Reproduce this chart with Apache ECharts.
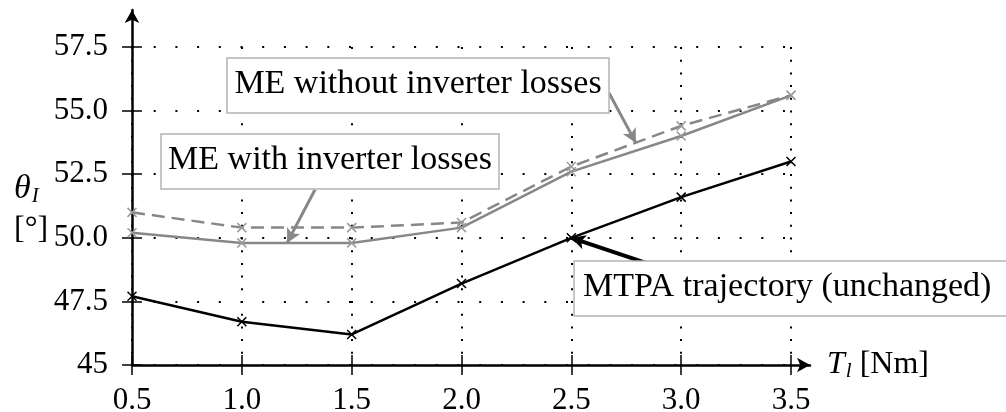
<!DOCTYPE html>
<html>
<head>
<meta charset="utf-8">
<script src="https://cdn.jsdelivr.net/npm/echarts@6/dist/echarts.min.js"></script>
<style>
  html, body { margin: 0; padding: 0; background: #fff; }
  #main { width: 1006px; height: 412px; }
</style>
</head>
<body>
<div id="main"></div>
<script>
// load torque T_l [Nm]
const torque = [0.5, 1.0, 1.5, 2.0, 2.5, 3.0, 3.5];
// current angle theta_I [deg]
const mtpa = [47.7, 46.7, 46.2, 48.2, 50.0, 51.6, 53.0];
const meWithLosses = [50.2, 49.8, 49.8, 50.4, 52.6, 54.0, 55.6];
const meWithoutLosses = [51.0, 50.4, 50.4, 50.6, 52.8, 54.4, 55.6];

const yTickLabels = { 45: '45', 47.5: '47.5', 50: '50.0', 52.5: '52.5', 55: '55.0', 57.5: '57.5' };

// arrows of the annotations, [tail, tip] in data coords
const arrowWithout = [[2.671, 55.70], [2.794, 53.73]];
const arrowWith = [[1.333, 51.89], [1.206, 49.80]];
const arrowMtpa = [[2.894, 48.86], [2.5, 50.0]];

const FONT = '"Liberation Serif", "Times New Roman", serif';
const GREY = '#878787';
const CROSS = 'path://M0,0L10,10M0,10L10,0';

function pairs(ys) {
    return torque.map((t, i) => [t, ys[i]]);
}

function arrow(pts, color, width) {
    return {
        silent: true,
        symbol: ['none', 'arrow'],
        symbolSize: [11, 14],
        label: { show: false },
        lineStyle: { color: color, width: width, type: 'solid' },
        data: [[{ coord: pts[0] }, { coord: pts[1] }]]
    };
}

function note(text, x, y, align) {
    return {
        type: 'text', z: 21, x: x, y: y, scaleX: 1.03,
        style: { text: text, font: '33px ' + FONT, fill: '#000',
                 textAlign: align, align: align, textVerticalAlign: 'middle', verticalAlign: 'middle' }
    };
}

function box(x, y, w, h) {
    return {
        type: 'rect', z: 20, shape: { x: x, y: y, width: w, height: h },
        style: { fill: '#fff', stroke: '#b4b4b4', lineWidth: 1.5 }
    };
}

let chart = echarts.init(document.getElementById('main'), null, { renderer: 'canvas' });

let tickLabel = { fontFamily: FONT, fontSize: 31, color: '#000' };

let option = {
    backgroundColor: '#fff',
    animation: false,
    grid: [
        { left: 132, right: 215, top: 47, bottom: 47, containLabel: false, outerBoundsMode: 'none' },
        { left: 132, right: 196, top: 10, bottom: 47, containLabel: false, outerBoundsMode: 'none' }
    ],
    xAxis: [
        {
            gridIndex: 0, type: 'value', min: 0.5, max: 3.5, interval: 0.5,
            axisLine: { show: false },
            axisTick: { show: true, inside: false, length: 10, lineStyle: { color: '#000', width: 1.5 } },
            axisLabel: Object.assign({ margin: 20, formatter: v => v.toFixed(1) }, tickLabel),
            splitLine: { show: true, lineStyle: { color: '#000', width: 2, type: [2, 10.7] } }
        },
        {
            gridIndex: 0, type: 'value', min: 0.5, max: 3.5, interval: 0.5, position: 'bottom',
            axisLine: { show: false },
            axisTick: { show: true, inside: true, length: 10, lineStyle: { color: '#000', width: 1.5 } },
            axisLabel: { show: false },
            splitLine: { show: false }
        },
        {
            gridIndex: 1, type: 'value', min: 0, max: 1,
            axisLine: {
                show: true, onZero: false, symbol: ['none', 'arrow'], symbolSize: [11, 13],
                lineStyle: { color: '#000', width: 2.5 }
            },
            axisTick: { show: false },
            axisLabel: { show: false },
            splitLine: { show: false },
            name: '{i|T}{s|l} [Nm]',
            nameLocation: 'end',
            nameGap: 17,
            nameTextStyle: {
                fontFamily: FONT, fontSize: 32, color: '#000',
                rich: {
                    i: { fontFamily: FONT, fontSize: 32, fontStyle: 'italic', color: '#000' },
                    s: { fontFamily: FONT, fontSize: 21, fontStyle: 'italic', color: '#000', padding: [12, 0, 0, 1] }
                }
            }
        }
    ],
    yAxis: [
        {
            gridIndex: 0, type: 'value', min: 45, max: 57.5, interval: 2.5,
            axisLine: { show: false },
            axisTick: { show: true, inside: false, length: 10, lineStyle: { color: '#000', width: 1.5 } },
            axisLabel: Object.assign({ margin: 24, formatter: v => yTickLabels[v] }, tickLabel),
            splitLine: { show: true, lineStyle: { color: '#000', width: 2, type: [2, 19.7] } }
        },
        {
            gridIndex: 0, type: 'value', min: 45, max: 57.5, interval: 2.5, position: 'left',
            axisLine: { show: false },
            axisTick: { show: true, inside: true, length: 10, lineStyle: { color: '#000', width: 1.5 } },
            axisLabel: { show: false },
            splitLine: { show: false }
        },
        {
            gridIndex: 1, type: 'value', min: 0, max: 1,
            axisLine: {
                show: true, onZero: false, symbol: ['none', 'arrow'], symbolSize: [11, 13],
                lineStyle: { color: '#000', width: 2.5 }
            },
            axisTick: { show: false },
            axisLabel: { show: false },
            splitLine: { show: false }
        }
    ],
    graphic: [
        {
            type: 'text', left: 14, top: 172, z: 10,
            style: {
                text: '{i|θ}{s|I}',
                rich: {
                    i: { fontFamily: FONT, fontSize: 34, fontStyle: 'italic', fill: '#000' },
                    s: { fontFamily: FONT, fontSize: 21, fontStyle: 'italic', fill: '#000', padding: [14, 0, 0, 1] }
                }
            }
        },
        {
            type: 'text', left: 14, top: 214, z: 10,
            style: { text: '[°]', font: '32px ' + FONT, fill: '#000' }
        },
        box(227, 58, 382, 55),
        note('ME without inverter losses', 418, 84, 'center'),
        box(161, 134, 338, 55),
        note('ME with inverter losses', 330, 160, 'center'),
        box(574, 261, 450, 55),
        note('MTPA trajectory (unchanged)', 583, 287, 'left')
    ],
    series: [
        {
            name: 'ME without inverter losses', type: 'line', xAxisIndex: 0, yAxisIndex: 0,
            data: pairs(meWithoutLosses),
            symbol: CROSS, symbolSize: 9, showAllSymbol: true,
            itemStyle: { color: 'transparent', borderColor: '#9a9a9a', borderWidth: 1.5 },
            lineStyle: { color: GREY, width: 2.5, type: [13, 7] },
            markLine: arrow(arrowWithout, GREY, 3),
            z: 3
        },
        {
            name: 'ME with inverter losses', type: 'line', xAxisIndex: 0, yAxisIndex: 0,
            data: pairs(meWithLosses),
            symbol: CROSS, symbolSize: 9, showAllSymbol: true,
            itemStyle: { color: 'transparent', borderColor: '#9a9a9a', borderWidth: 1.5 },
            lineStyle: { color: GREY, width: 2.5, type: 'solid' },
            markLine: arrow(arrowWith, GREY, 3),
            z: 3
        },
        {
            name: 'MTPA trajectory (unchanged)', type: 'line', xAxisIndex: 0, yAxisIndex: 0,
            data: pairs(mtpa),
            symbol: CROSS, symbolSize: 9, showAllSymbol: true,
            itemStyle: { color: 'transparent', borderColor: '#000', borderWidth: 1.5 },
            lineStyle: { color: '#000', width: 2.5, type: 'solid' },
            markLine: arrow(arrowMtpa, '#000', 4),
            z: 4
        }
    ]
};

chart.setOption(option);
</script>
</body>
</html>
